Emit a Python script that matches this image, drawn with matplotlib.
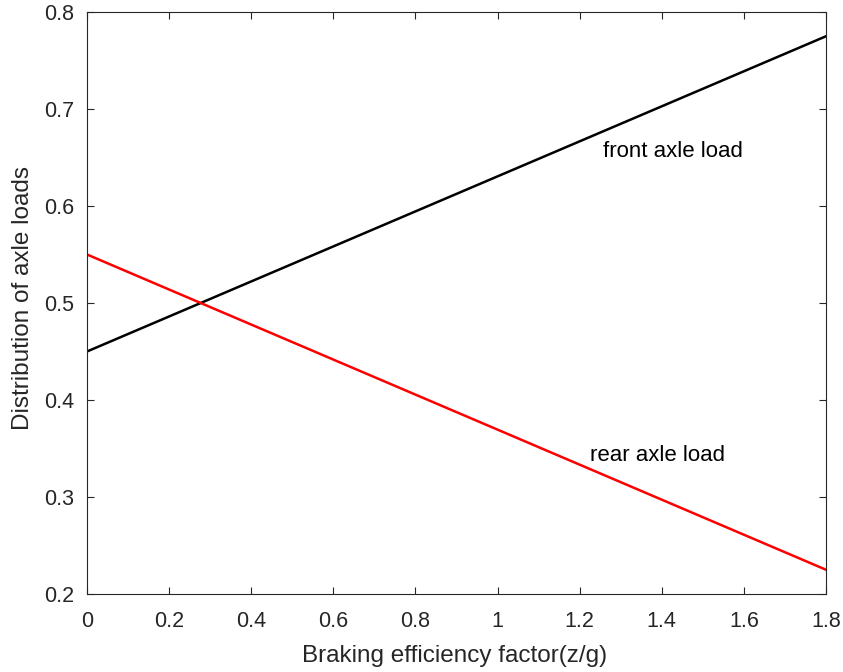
import matplotlib
matplotlib.use("Agg")
import matplotlib.pyplot as plt

plt.rcParams['font.family'] = ['Liberation Sans', 'DejaVu Sans']

z = [0.0, 1.8]
front = [0.45, 0.775]
rear = [0.55, 0.225]
xticks = [0, 0.2, 0.4, 0.6, 0.8, 1.0, 1.2, 1.4, 1.6, 1.8]
xticklabels = ['0', '0.2', '0.4', '0.6', '0.8', '1', '1.2', '1.4', '1.6', '1.8']
yticks = [0.2, 0.3, 0.4, 0.5, 0.6, 0.7, 0.8]
yticklabels = ['0.2', '0.3', '0.4', '0.5', '0.6', '0.7', '0.8']

fig = plt.figure(figsize=(8.43, 6.72), dpi=100)
ax = fig.add_axes([87/843, 1-594/672, (826-87)/843, (594-12)/672])
gray = '#262626'
ax.plot(z, front, color='black', lw=1.8)
ax.plot(z, rear, color='#ff0000', lw=1.8)
ax.set_xlim(0, 1.8)
ax.set_ylim(0.2, 0.8)
ax.set_xticks(xticks)
ax.set_xticklabels(xticklabels)
ax.set_yticks(yticks)
ax.set_yticklabels(yticklabels)
ax.tick_params(direction='in', top=True, right=True, length=5, width=0.8,
               colors=gray, labelsize=15.5)
ax.tick_params(axis='x', pad=12.5)
ax.tick_params(axis='y', pad=9)
for s in ax.spines.values():
    s.set_color(gray)
    s.set_linewidth(0.8)
ax.set_xlabel('Braking efficiency factor(z/g)', fontsize=17.5, color=gray)
ax.set_ylabel('Distribution of axle loads', fontsize=17.5, color=gray)
ax.xaxis.set_label_coords(0.497, -(656-594)/582)
ax.xaxis.label.set_verticalalignment('center')
ax.yaxis.set_label_coords((23-87)/739, 0.508)
ax.yaxis.label.set_verticalalignment('center')
ax.text(1.257, 0.656, 'front axle load', fontsize=16, va='center', ha='left', color='black')
ax.text(1.225, 0.343, 'rear axle load', fontsize=16, va='center', ha='left', color='black')
fig.savefig('out.png', dpi=100)
